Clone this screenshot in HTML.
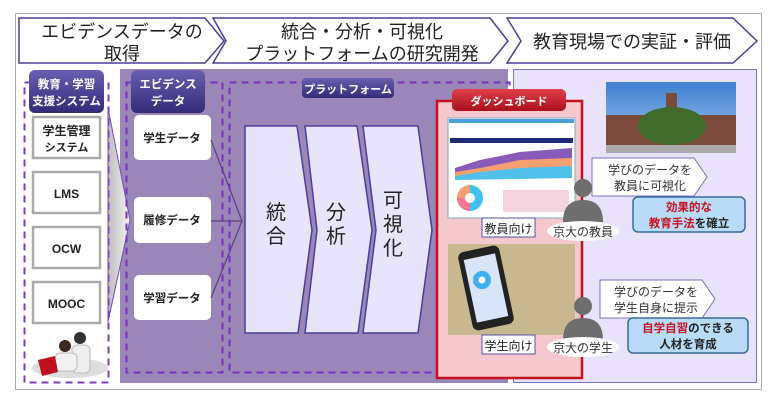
<!DOCTYPE html>
<html><head><meta charset="utf-8"><style>
body{margin:0;background:#fff;}
svg text{font-family:"Liberation Sans","Noto Sans CJK JP",sans-serif;}
</style></head><body>
<svg width="780" height="400" viewBox="0 0 780 400" xmlns="http://www.w3.org/2000/svg">
<defs>
<linearGradient id="hd" x1="0" y1="0" x2="0" y2="1"><stop offset="0" stop-color="#6a5fb0"/><stop offset="1" stop-color="#332a78"/></linearGradient>
<linearGradient id="rd" x1="0" y1="0" x2="0" y2="1"><stop offset="0" stop-color="#e0404a"/><stop offset="1" stop-color="#a8101c"/></linearGradient>
<linearGradient id="gw" x1="0" y1="0" x2="1" y2="0"><stop offset="0" stop-color="#bdbdbd"/><stop offset="1" stop-color="#f4f4f4"/></linearGradient>
<linearGradient id="sky" x1="0" y1="0" x2="0" y2="1"><stop offset="0" stop-color="#3f7fd0"/><stop offset="1" stop-color="#a9cdf0"/></linearGradient>
</defs>
<rect x="15.5" y="13.5" width="746" height="376" fill="#fff" stroke="#aaa"/>
<polygon points="19,18 205,18 224,41 205,63 19,63" fill="#fff" stroke="#4a3f96" stroke-width="1.5"/>
<polygon points="213,18 490,18 508,41 490,63 213,63 226,41" fill="#fff" stroke="#4a3f96" stroke-width="1.5"/>
<polygon points="507,18 733,18 757,41 733,63 507,63 521,41" fill="#fff" stroke="#4a3f96" stroke-width="1.5"/>
<text x="122" y="38" font-size="18" text-anchor="middle" fill="#222">エビデンスデータの</text>
<text x="122" y="60" font-size="18" text-anchor="middle" fill="#222">取得</text>
<text x="362" y="38" font-size="18" text-anchor="middle" fill="#222">統合・分析・可視化</text>
<text x="362" y="60" font-size="18" text-anchor="middle" fill="#222">プラットフォームの研究開発</text>
<text x="632" y="48" font-size="18" text-anchor="middle" fill="#222">教育現場での実証・評価</text>
<rect x="120" y="69" width="388" height="314" fill="#9b86b8"/>
<rect x="513.5" y="69.5" width="243" height="313" fill="#e8e2fb" stroke="#7d72c0"/>
<polygon points="108,108 130,220 108,322" fill="url(#gw)" stroke="#6b4fb0" stroke-width="1"/>
<rect x="24.5" y="82.5" width="84" height="300" fill="none" stroke="#7a3fc0" stroke-width="2" stroke-dasharray="7,5"/>
<rect x="29" y="70" width="75" height="43" rx="6" fill="url(#hd)"/>
<text x="66.5" y="88" font-size="11.5" font-weight="bold" text-anchor="middle" fill="#fff">教育・学習</text>
<text x="66.5" y="105" font-size="11.5" font-weight="bold" text-anchor="middle" fill="#fff">支援システム</text>
<g fill="#fff" stroke="#aaa" stroke-width="2.5">
<rect x="33" y="117" width="67" height="41"/><rect x="33" y="172" width="67" height="41"/>
<rect x="33" y="227" width="67" height="41"/><rect x="33" y="282" width="67" height="41"/></g>
<g font-weight="bold" text-anchor="middle" fill="#222">
<text x="66.5" y="135" font-size="12">学生管理</text><text x="66.5" y="151" font-size="11">システム</text>
<text x="66.5" y="198" font-size="12">LMS</text><text x="66.5" y="253" font-size="12">OCW</text><text x="66.5" y="308" font-size="12">MOOC</text></g>
<ellipse cx="70" cy="368" rx="38" ry="10" fill="#ddd"/>
<circle cx="80" cy="338" r="6" fill="#333"/><rect x="72" y="345" width="18" height="28" rx="5" fill="#eee" stroke="#bbb"/>
<circle cx="65" cy="346" r="6" fill="#3a2a20"/><rect x="55" y="353" width="22" height="18" rx="5" fill="#f2f2f2" stroke="#bbb"/>
<polygon points="38,360 55,356 58,372 42,376" fill="#c01020"/>
<rect x="126.5" y="82.5" width="96" height="290" fill="none" stroke="#7a2fc0" stroke-width="2" stroke-dasharray="7,5"/>
<rect x="131" y="70" width="74" height="43" rx="6" fill="url(#hd)"/>
<text x="168" y="88" font-size="11.5" font-weight="bold" text-anchor="middle" fill="#fff">エビデンス</text>
<text x="168" y="105" font-size="11.5" font-weight="bold" text-anchor="middle" fill="#fff">データ</text>
<g fill="#fff"><rect x="134" y="115" width="77" height="45" rx="5"/><rect x="134" y="197" width="77" height="46" rx="5"/><rect x="134" y="275" width="77" height="45" rx="5"/></g>
<g font-size="11.5" font-weight="bold" text-anchor="middle" fill="#222">
<text x="172" y="142">学生データ</text><text x="172" y="224">履修データ</text><text x="172" y="302">学習データ</text></g>
<g stroke="#5a4080" stroke-width="1.2" fill="none"><line x1="211" y1="140" x2="242" y2="221"/><line x1="211" y1="221" x2="242" y2="221"/><line x1="211" y1="298" x2="242" y2="221"/></g>
<rect x="229.5" y="82.5" width="280" height="290" fill="none" stroke="#7a2fc0" stroke-width="2" stroke-dasharray="7,5"/>
<rect x="302" y="78" width="92" height="20" rx="4" fill="url(#hd)"/>
<text x="348" y="93" font-size="11" font-weight="bold" text-anchor="middle" fill="#fff">プラットフォーム</text>
<g fill="#e8e4fb" stroke="#4a3fa0" stroke-width="1.5">
<polygon points="245,126 297,126 312,230 298,333 245,333"/>
<polygon points="305,126 357,126 372,230 358,333 305,333 317,230"/>
<polygon points="363,126 418,126 432,230 418,333 363,333 376,230"/></g>
<g font-size="20" text-anchor="middle" fill="#222">
<text x="276" y="219">統</text><text x="276" y="243">合</text>
<text x="336" y="219">分</text><text x="336" y="243">析</text>
<text x="393" y="207">可</text><text x="393" y="231">視</text><text x="393" y="255">化</text></g>
<rect x="437" y="101" width="145" height="277" fill="#f4c8cc" stroke="#c8101e" stroke-width="2.5"/>
<rect x="452" y="89" width="114" height="22" rx="5" fill="url(#rd)"/>
<text x="509" y="105" font-size="11" font-weight="bold" text-anchor="middle" fill="#fff">ダッシュボード</text>
<rect x="448" y="118" width="127" height="100" fill="#fff" stroke="#8ab"/>
<rect x="449" y="119" width="125" height="4" fill="#4aa0d8"/>
<rect x="450" y="138" width="123" height="5" fill="#1e2a78"/>
<polygon points="455,168 480,160 520,152 572,148 572,172 455,178" fill="#8a5ab8"/>
<polygon points="455,172 480,168 520,160 572,158 572,172 455,178" fill="#f5a070"/>
<polygon points="455,176 480,172 520,168 572,166 572,178 455,180" fill="#50c0e8"/>
<circle cx="470" cy="198" r="13" fill="#40c0f0"/><path d="M470 185 A13 13 0 0 0 457 198 L470 198Z" fill="#f4a070"/><path d="M457 198 A13 13 0 0 0 470 211 L470 198Z" fill="#f47890"/><circle cx="470" cy="198" r="5" fill="#fff"/>
<rect x="503" y="190" width="66" height="22" fill="#f0c0d0" opacity="0.7"/>
<rect x="482" y="218" width="53" height="19" fill="#fff" stroke="#5a4fa0"/>
<text x="508.5" y="233" font-size="12" text-anchor="middle" fill="#222">教員向け</text>
<rect x="448" y="244" width="127" height="91" fill="#c8b890"/>
<rect x="465" y="248" width="42" height="80" rx="6" fill="#222" transform="rotate(-12 486 288)"/>
<rect x="470" y="256" width="32" height="64" fill="#d8e4f8" transform="rotate(-12 486 288)"/>
<circle cx="482" cy="280" r="9" fill="#40b0f0"/><circle cx="482" cy="280" r="3.5" fill="#fff"/>
<rect x="482" y="335" width="53" height="19" fill="#fff" stroke="#5a4fa0"/>
<text x="508.5" y="350" font-size="12" text-anchor="middle" fill="#222">学生向け</text>
<rect x="606" y="82" width="130" height="71" fill="url(#sky)"/>
<rect x="606" y="115" width="130" height="31" fill="#7a4a3a"/>
<rect x="666" y="93" width="11" height="25" fill="#7a4a3a"/>
<ellipse cx="672" cy="126" rx="34" ry="19" fill="#3f6a2a"/>
<rect x="606" y="145" width="130" height="8" fill="#aaa"/>
<polygon points="592,158 694,158 707,177 694,196 592,196" fill="#fff" stroke="#7d72c0"/>
<text x="650" y="174" font-size="12" text-anchor="middle" fill="#333">学びのデータを</text>
<text x="650" y="190" font-size="12" text-anchor="middle" fill="#333">教員に可視化</text>
<polygon points="600,280 702,280 715,299 702,318 600,318" fill="#fff" stroke="#7d72c0"/>
<text x="656" y="296" font-size="12" text-anchor="middle" fill="#333">学びのデータを</text>
<text x="656" y="312" font-size="12" text-anchor="middle" fill="#333">学生自身に提示</text>
<g fill="#6e6e6e"><circle cx="583" cy="188" r="9"/><path d="M563 222 Q563 200 583 200 Q603 200 603 222Z"/>
<circle cx="583" cy="306" r="9"/><path d="M563 340 Q563 318 583 318 Q603 318 603 340Z"/></g>
<ellipse cx="583" cy="231" rx="36" ry="10" fill="#fff"/>
<text x="583" y="236" font-size="12" text-anchor="middle" fill="#333">京大の教員</text>
<ellipse cx="583" cy="347" rx="36" ry="10" fill="#fff"/>
<text x="583" y="352" font-size="12" text-anchor="middle" fill="#333">京大の学生</text>
<rect x="633" y="197" width="112" height="35" rx="5" fill="#b8dcf8" stroke="#3a6aa0" stroke-width="1.5"/>
<text x="689" y="211" font-size="11.5" font-weight="bold" text-anchor="middle" fill="#c8101e">効果的な</text>
<text x="689" y="227" font-size="11.5" font-weight="bold" text-anchor="middle" fill="#222"><tspan fill="#c8101e">教育手法</tspan>を確立</text>
<rect x="628" y="318" width="120" height="35" rx="5" fill="#b8dcf8" stroke="#3a6aa0" stroke-width="1.5"/>
<text x="688" y="332" font-size="11.5" font-weight="bold" text-anchor="middle" fill="#222"><tspan fill="#c8101e">自学自習</tspan>のできる</text>
<text x="688" y="348" font-size="11.5" font-weight="bold" text-anchor="middle" fill="#222">人材を育成</text>
</svg>
</body></html>
